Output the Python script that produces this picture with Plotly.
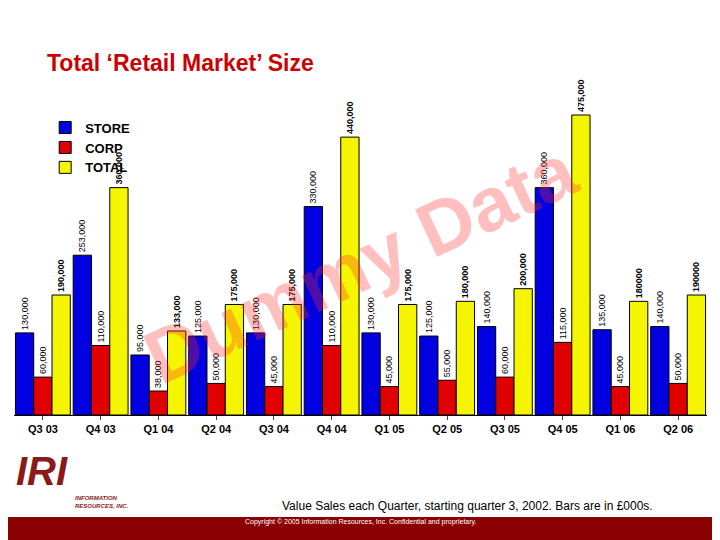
import plotly.graph_objects as go

quarters = ["Q3 03", "Q4 03", "Q1 04", "Q2 04", "Q3 04", "Q4 04",
            "Q1 05", "Q2 05", "Q3 05", "Q4 05", "Q1 06", "Q2 06"]
store = [130000, 253000, 95000, 125000, 130000, 330000,
         130000, 125000, 140000, 360000, 135000, 140000]
corp = [60000, 110000, 38000, 50000, 45000, 110000,
        45000, 55000, 60000, 115000, 45000, 50000]
total = [190000, 360000, 133000, 175000, 175000, 440000,
         175000, 180000, 200000, 475000, 180000, 190000]
store_labels = ["130,000", "253,000", "95,000", "125,000", "130,000", "330,000",
                "130,000", "125,000", "140,000", "360,000", "135,000", "140,000"]
corp_labels = ["60,000", "110,000", "38,000", "50,000", "45,000", "110,000",
               "45,000", "55,000", "60,000", "115,000", "45,000", "50,000"]
total_labels = ["190,000", "360,000", "133,000", "175,000", "175,000", "440,000",
                "175,000", "180,000", "200,000", "475,000", "180000", "190000"]

fig = go.Figure()
for name, vals, labels, color, bold in [
    ("STORE", store, store_labels, "#0000e0", False),
    ("CORP", corp, corp_labels, "#e00000", False),
    ("TOTAL", total, total_labels, "#f5f500", True),
]:
    fig.add_trace(go.Bar(
        x=quarters, y=vals, name=name, marker=dict(color=color, line=dict(color="black", width=1)),
        text=[f"<b>{t}</b>" if bold else t for t in labels],
        textposition="outside", textangle=-90, cliponaxis=False,
        textfont=dict(size=9, color="black", family="Arial"),
    ))

fig.update_layout(
    width=720, height=540, barmode="group", bargap=0.05, bargroupgap=0,
    plot_bgcolor="white", paper_bgcolor="white",
    margin=dict(l=6, r=21, t=92, b=133),
    font=dict(family="Arial", color="black"),
    showlegend=True,
    legend=dict(x=0.045, y=0.96, xanchor="left", yanchor="top", bgcolor="rgba(0,0,0,0)",
                font=dict(size=13, family="Arial", weight="bold"), itemwidth=30, tracegroupgap=0),
    uniformtext=dict(minsize=8, mode="show"),
)
fig.update_xaxes(showline=True, linecolor="black", ticks="outside", ticklen=4,
                 tickfont=dict(size=11, family="Arial", weight="bold"))
fig.update_yaxes(range=[0, 498750], visible=False)

fig.add_annotation(text="Total ‘Retail Market’ Size", xref="paper", yref="paper",
                   x=0.045, y=1.07, xanchor="left", yanchor="bottom",
                   showarrow=False, font=dict(size=23, color="#cc0000", family="Arial", weight="bold"))
fig.add_annotation(text="Dummy Data", xref="paper", yref="paper", x=0.5, y=0.48,
                   textangle=-25, showarrow=False, opacity=0.3,
                   font=dict(size=76, color="#ff3030", family="Arial", weight="bold"))
fig.add_annotation(text="Value Sales each Quarter, starting quarter 3, 2002. Bars are in £000s.",
                   xref="paper", yref="paper", x=0.925, y=-0.317, xanchor="right",
                   showarrow=False, font=dict(size=12, family="Arial"))
fig.add_shape(type="rect", xref="paper", yref="paper", x0=-0.025, x1=1.035, y0=-0.324, y1=-0.44,
              fillcolor="#8b0000", line=dict(width=0))
fig.add_annotation(text="Copyright © 2005 Information Resources, Inc. Confidential and proprietary.",
                   xref="paper", yref="paper", x=0.5, y=-0.36, showarrow=False,
                   font=dict(size=7, color="white", family="Arial"))
fig.add_annotation(text="<b><i>IRI</i></b>", xref="paper", yref="paper", x=0.0, y=-0.255,
                   xanchor="left", showarrow=False, font=dict(size=40, color="#8b1a1a", family="Arial"))
fig.add_annotation(text="<b><i>INFORMATION<br>RESOURCES, INC.</i></b>", xref="paper", yref="paper",
                   x=0.085, y=-0.305, xanchor="left", align="left", showarrow=False,
                   font=dict(size=6, color="#8b1a1a", family="Arial"))
fig.write_html("out.html")
